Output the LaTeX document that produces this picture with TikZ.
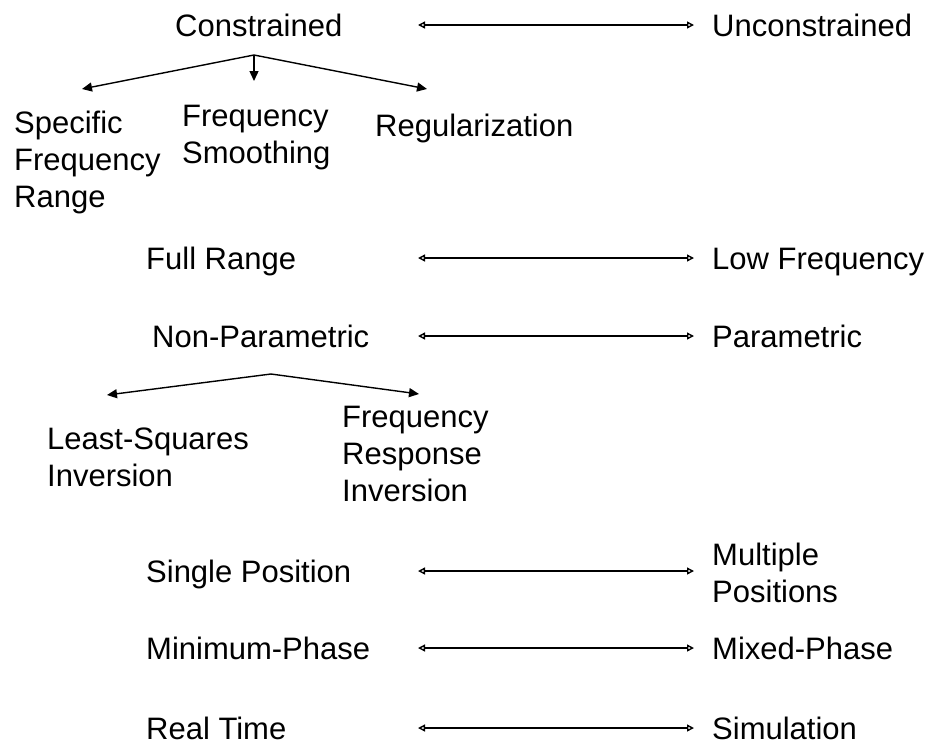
\documentclass[tikz,border=0pt]{standalone}
\usepackage{fontspec}
\setmainfont{Liberation Sans}
\usetikzlibrary{arrows.meta}
\tikzset{
  txt/.style={anchor=base west, inner sep=0pt, align=left, font=\fontsize{31}{37}\selectfont},
  one/.style={txt, text height=22pt, text depth=0pt},
  pair/.style={{Triangle[open,length=7pt,width=7pt]}-{Triangle[open,length=7pt,width=7pt]}, line width=1.4pt},
  branch/.style={-{Triangle[length=10pt,width=9pt]}, line width=1.4pt}
}
\begin{document}
\begin{tikzpicture}[x=1pt,y=-1pt]
\useasboundingbox (0,0) rectangle (928,740);
\coordinate (lend) at (418,0);
\coordinate (rend) at (694,0);

\node[one] (con) at (175,36) {Constrained};
\node[one] (uncon) at (712,36) {Unconstrained};
\draw[pair] (con.east -| lend) -- (con.east -| rend);

\coordinate (top1) at (254,55);
\coordinate (t1) at (82,89);
\coordinate (t2) at (254,81);
\coordinate (t3) at (427,89);
\node[txt] (spec) at (14,207) {Specific\\Frequency\\Range};
\node[txt] (smooth) at (182,163) {Frequency\\Smoothing};
\node[one] (reg) at (375,136) {Regularization};
\draw[branch] (top1) -- (t1);
\draw[branch] (top1) -- (t2);
\draw[branch] (top1) -- (t3);

\node[one] (full) at (146,269) {Full Range};
\node[one] (low) at (712,269) {Low Frequency};
\draw[pair] (full.east -| lend) -- (full.east -| rend);

\node[one] (nonpar) at (152,347) {Non-Parametric};
\node[one] (par) at (712,347) {Parametric};
\draw[pair] (nonpar.east -| lend) -- (nonpar.east -| rend);

\coordinate (top2) at (271,374);
\coordinate (t4) at (107,395);
\coordinate (t5) at (419,394);
\node[txt] (lsq) at (47,486) {Least-Squares\\Inversion};
\node[txt] (fri) at (342,501) {Frequency\\Response\\Inversion};
\draw[branch] (top2) -- (t4);
\draw[branch] (top2) -- (t5);

\node[one] (single) at (146,582) {Single Position};
\node[txt] (multi) at (712,602) {Multiple\\Positions};
\draw[pair] (single.east -| lend) -- (single.east -| rend);

\node[one] (minph) at (146,659) {Minimum-Phase};
\node[one] (mixph) at (712,659) {Mixed-Phase};
\draw[pair] (minph.east -| lend) -- (minph.east -| rend);

\node[one] (real) at (146,739) {Real Time};
\node[one] (sim) at (712,739) {Simulation};
\draw[pair] (real.east -| lend) -- (real.east -| rend);
\end{tikzpicture}
\end{document}
